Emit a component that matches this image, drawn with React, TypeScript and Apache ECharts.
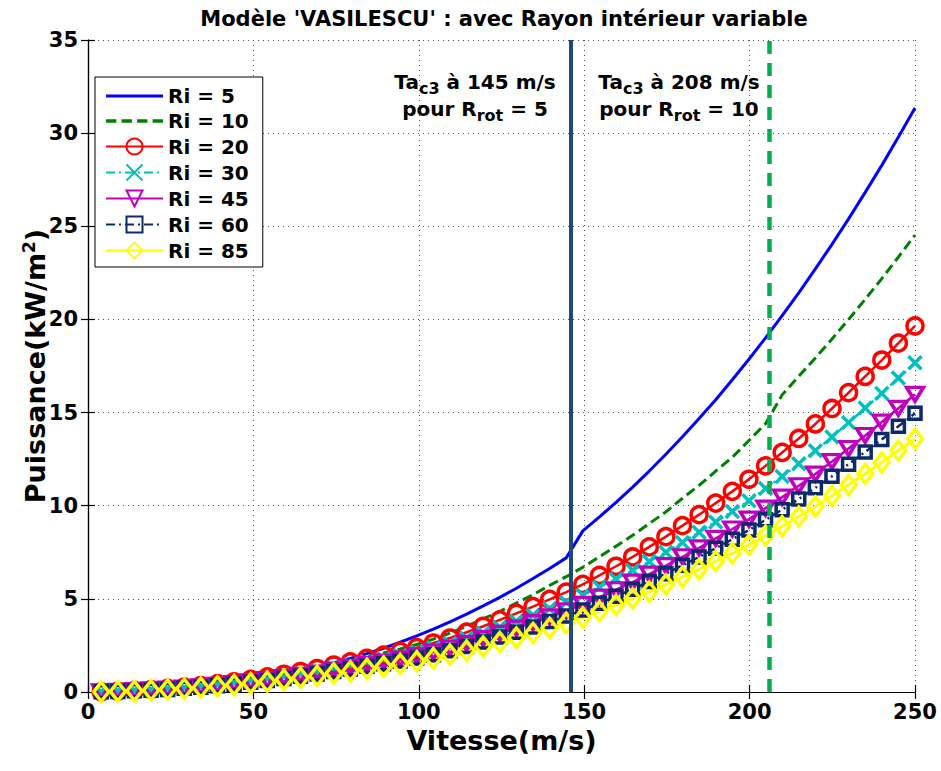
import React, { useEffect, useRef } from "react";
import * as echarts from "echarts";

const FONT = "'DejaVu Sans', 'Liberation Sans', sans-serif";

const titleText = "Modèle 'VASILESCU' : avec Rayon intérieur variable";
const xName = "Vitesse(m/s)";
const seriesNames = ["Ri = 5", "Ri = 10", "Ri = 20", "Ri = 30", "Ri = 45", "Ri = 60", "Ri = 85"];
const xTicks = [0, 50, 100, 150, 200, 250];
const yTicks = [0, 5, 10, 15, 20, 25, 30, 35];

const speeds = [
  4, 9.02, 14.04, 19.06, 24.08, 29.1, 34.12, 39.14, 44.16, 49.18,
  54.2, 59.22, 64.24, 69.27, 74.29, 79.31, 84.33, 89.35, 94.37, 99.39,
  104.41, 109.43, 114.45, 119.47, 124.49, 129.51, 134.53, 139.55, 144.57, 149.59,
  154.61, 159.63, 164.65, 169.67, 174.69, 179.71, 184.73, 189.76, 194.78, 199.8,
  204.82, 209.84, 214.86, 219.88, 224.9, 229.92, 234.94, 239.96, 244.98, 250,
];

const ri5 = [
  0.01, 0.04, 0.09, 0.14, 0.2, 0.27, 0.36, 0.46, 0.58, 0.71,
  0.85, 1.0, 1.16, 1.35, 1.56, 1.8, 2.06, 2.35, 2.67, 3.01,
  3.37, 3.76, 4.18, 4.62, 5.08, 5.57, 6.09, 6.63, 7.2, 8.65,
  9.4, 10.18, 11.0, 11.86, 12.76, 13.7, 14.68, 15.69, 16.76, 17.86,
  19.01, 20.2, 21.43, 22.71, 24.03, 25.4, 26.82, 28.27, 29.79, 31.35,
];
const ri10 = [
  0.01, 0.04, 0.09, 0.13, 0.19, 0.26, 0.35, 0.45, 0.56, 0.69,
  0.82, 0.97, 1.13, 1.3, 1.5, 1.68, 1.9, 2.09, 2.31, 2.55,
  2.84, 3.16, 3.53, 3.92, 4.33, 4.77, 5.22, 5.72, 6.19, 6.7,
  7.26, 7.83, 8.41, 9.04, 9.67, 10.4, 11.09, 11.86, 12.6, 13.5,
  14.4, 15.95, 16.95, 17.93, 18.95, 20.0, 21.08, 22.19, 23.35, 24.53,
];
const ri20 = [
  0.01, 0.04, 0.09, 0.13, 0.19, 0.26, 0.35, 0.45, 0.55, 0.68,
  0.81, 0.95, 1.1, 1.26, 1.45, 1.62, 1.81, 1.98, 2.18, 2.38,
  2.63, 2.9, 3.21, 3.53, 3.87, 4.22, 4.58, 4.97, 5.36, 5.78,
  6.26, 6.75, 7.25, 7.79, 8.34, 8.93, 9.52, 10.14, 10.77, 11.42,
  12.14, 12.86, 13.61, 14.39, 15.22, 16.07, 16.94, 17.82, 18.73, 19.65,
];
const ri30 = [
  0.01, 0.04, 0.08, 0.12, 0.17, 0.23, 0.31, 0.4, 0.49, 0.61,
  0.73, 0.86, 0.99, 1.13, 1.3, 1.46, 1.63, 1.78, 1.96, 2.15,
  2.37, 2.61, 2.89, 3.17, 3.48, 3.8, 4.12, 4.47, 4.82, 5.2,
  5.63, 6.07, 6.53, 7.01, 7.5, 8.03, 8.57, 9.13, 9.69, 10.27,
  10.92, 11.57, 12.25, 12.95, 13.69, 14.46, 15.24, 16.03, 16.85, 17.68,
];
const ri45 = [
  0.01, 0.04, 0.07, 0.11, 0.15, 0.21, 0.28, 0.36, 0.45, 0.55,
  0.66, 0.78, 0.89, 1.02, 1.18, 1.32, 1.47, 1.61, 1.77, 1.94,
  2.14, 2.36, 2.61, 2.87, 3.15, 3.43, 3.72, 4.04, 4.36, 4.7,
  5.09, 5.49, 5.9, 6.33, 6.78, 7.26, 7.74, 8.25, 8.75, 9.28,
  9.87, 10.46, 11.07, 11.7, 12.37, 13.07, 13.77, 14.49, 15.23, 15.98,
];
const ri60 = [
  0.01, 0.03, 0.07, 0.1, 0.14, 0.2, 0.26, 0.34, 0.42, 0.52,
  0.62, 0.73, 0.84, 0.96, 1.1, 1.23, 1.38, 1.51, 1.66, 1.82,
  2.0, 2.21, 2.44, 2.68, 2.95, 3.21, 3.49, 3.78, 4.08, 4.4,
  4.76, 5.14, 5.52, 5.93, 6.35, 6.8, 7.25, 7.72, 8.2, 8.69,
  9.24, 9.79, 10.36, 10.96, 11.58, 12.23, 12.89, 13.56, 14.26, 14.96,
];
const ri85 = [
  0.01, 0.03, 0.06, 0.09, 0.13, 0.18, 0.24, 0.31, 0.38, 0.47,
  0.56, 0.66, 0.76, 0.87, 1.0, 1.12, 1.25, 1.37, 1.51, 1.65,
  1.82, 2.01, 2.22, 2.44, 2.68, 2.92, 3.17, 3.44, 3.71, 4.0,
  4.33, 4.67, 5.02, 5.39, 5.77, 6.18, 6.59, 7.02, 7.45, 7.9,
  8.4, 8.9, 9.42, 9.96, 10.53, 11.12, 11.72, 12.33, 12.96, 13.6,
];

const transitionSpeeds = [146, 206];

const CROSS = "path://M0,0L10,10M10,0L0,10";
const TRI_DOWN = "path://M0,0L12,0L6,10Z";
const SOLID_BAR = "path://M0,0L57,0L57,3.2L0,3.2Z";
const DASH_BAR = "path://M0,0h10v3.2h-10z M15,0h10v3.2h-10z M30,0h10v3.2h-10z M45,0h10v3.2h-10z";

export default function App() {
  const ref = useRef<HTMLDivElement>(null);

  useEffect(() => {
    if (!ref.current) return;
    const chart = echarts.init(ref.current, null, { renderer: "svg" });

    const mk = (
      name: string,
      vals: number[],
      color: string,
      lineType: any,
      width: number,
      symbol: string,
      symbolSize: any
    ) => ({
      type: "line",
      name,
      data: speeds.map((x, i) => [x, vals[i]]),
      symbol,
      showSymbol: symbol !== "none",
      symbolSize,
      symbolKeepAspect: false,
      lineStyle: { color, width, type: lineType },
      itemStyle: { color: "none", borderColor: color, borderWidth: 3.5 },
      emphasis: { disabled: true },
      silent: true,
      clip: false,
    });

    const axisTextStyle = {
      color: "#000",
      fontSize: 21,
      fontWeight: "bold",
      fontFamily: FONT,
    };

    const subRich = {
      m: { fontSize: 20, fontWeight: "bold", fontFamily: FONT, fill: "#000" },
      s: { fontSize: 16, fontWeight: "bold", fontFamily: FONT, fill: "#000", padding: [12, 0, 0, 0] },
    };

    const annot = (x: number, y: number, text: string) => ({
      type: "text",
      x,
      y,
      style: {
        text,
        fill: "#000",
        font: `bold 20px ${FONT}`,
        align: "center",
        verticalAlign: "middle",
        rich: subRich,
      },
    });

    const option: any = {
      animation: false,
      backgroundColor: "#fff",
      grid: { left: 88, right: 26, top: 40, bottom: 79, containLabel: false },
      xAxis: [
        {
          type: "value",
          min: xTicks[0],
          max: xTicks[xTicks.length - 1],
          interval: 50,
          name: xName,
          nameLocation: "middle",
          nameGap: 35,
          nameMoveOverlap: false,
          nameTextStyle: { ...axisTextStyle, fontSize: 27 },
          axisLine: { show: true, lineStyle: { color: "#000", width: 1.2 } },
          axisTick: { show: true, inside: true, length: 7, lineStyle: { color: "#000", width: 1.2 } },
          axisLabel: { ...axisTextStyle, margin: 9 },
          splitLine: { show: true, lineStyle: { color: "#555", width: 1, type: [1, 4] } },
        },
        {
          type: "value",
          position: "top",
          min: xTicks[0],
          max: xTicks[xTicks.length - 1],
          interval: 50,
          axisLine: { show: true, lineStyle: { color: "#000", width: 1.2 } },
          axisTick: { show: true, inside: true, length: 7, lineStyle: { color: "#000", width: 1.2 } },
          axisLabel: { show: false },
          splitLine: { show: false },
        },
      ],
      yAxis: [
        {
          type: "value",
          min: yTicks[0],
          max: yTicks[yTicks.length - 1],
          interval: 5,
          name: "Puissance(kW/m{sup|2})",
          nameLocation: "middle",
          nameGap: 37,
          nameMoveOverlap: false,
          nameTextStyle: {
            ...axisTextStyle,
            fontSize: 27,
            rich: {
              sup: { fontSize: 17, fontWeight: "bold", fontFamily: FONT, color: "#000", padding: [0, 0, 14, 0] },
            },
          },
          axisLine: { show: true, lineStyle: { color: "#000", width: 1.2 } },
          axisTick: { show: true, inside: true, length: 7, lineStyle: { color: "#000", width: 1.2 } },
          axisLabel: { ...axisTextStyle, margin: 10 },
          splitLine: { show: true, lineStyle: { color: "#555", width: 1, type: [1, 4] } },
        },
        {
          type: "value",
          position: "right",
          min: yTicks[0],
          max: yTicks[yTicks.length - 1],
          interval: 5,
          axisLine: { show: true, lineStyle: { color: "#000", width: 1.2 } },
          axisTick: { show: true, inside: true, length: 7, lineStyle: { color: "#000", width: 1.2 } },
          axisLabel: { show: false },
          splitLine: { show: false },
        },
      ],
      legend: {
        data: [
          { name: seriesNames[0], icon: SOLID_BAR, itemStyle: { color: "#0000ff", borderWidth: 0 } },
          { name: seriesNames[1], icon: DASH_BAR, itemStyle: { color: "#007f00", borderWidth: 0 } },
          { name: seriesNames[2] },
          { name: seriesNames[3] },
          { name: seriesNames[4] },
          { name: seriesNames[5] },
          { name: seriesNames[6] },
        ],
        orient: "vertical",
        left: 95,
        top: 77,
        itemWidth: 57,
        itemHeight: 20,
        itemGap: 5,
        padding: [9, 14, 6, 10],
        backgroundColor: "#fff",
        borderColor: "#000",
        borderWidth: 1,
        borderRadius: 0,
        selectedMode: false,
        textStyle: { color: "#000", fontSize: 20, fontWeight: "bold", fontFamily: FONT },
      },
      series: [
        mk(seriesNames[0], ri5, "#0000ff", "solid", 3, "none", 0),
        mk(seriesNames[1], ri10, "#007f00", [10, 5], 3, "none", 0),
        mk(seriesNames[2], ri20, "#ff0000", "solid", 2.5, "circle", 16),
        mk(seriesNames[3], ri30, "#00bfbf", [9, 4, 2, 4], 2.5, CROSS, 13),
        mk(seriesNames[4], ri45, "#bf00bf", "solid", 2.5, TRI_DOWN, [17, 14]),
        mk(seriesNames[5], ri60, "#0c2a6a", [9, 4, 2, 4], 2.5, "rect", 12),
        mk(seriesNames[6], ri85, "#ffff00", "solid", 3, "diamond", [15, 19]),
        {
          type: "line",
          name: "transitions",
          data: [],
          z: 10,
          silent: true,
          markLine: {
            silent: true,
            symbol: "none",
            animation: false,
            label: { show: false },
            data: [
              { xAxis: transitionSpeeds[0], lineStyle: { color: "#1f497d", width: 4, type: "solid" } },
              { xAxis: transitionSpeeds[1], lineStyle: { color: "#00b050", width: 4.5, type: [13, 9] } },
            ],
          },
        },
      ],
      graphic: [
        {
          type: "text",
          x: 504,
          y: 19,
          style: {
            text: titleText,
            fill: "#000",
            font: `bold 21px ${FONT}`,
            align: "center",
            verticalAlign: "middle",
          },
        },
        annot(475, 82, "{m|Ta}{s|c3}{m| à 145 m/s}"),
        annot(475, 109, "{m|pour R}{s|rot}{m| = 5}"),
        annot(679, 82, "{m|Ta}{s|c3}{m| à 208 m/s}"),
        annot(679, 109, "{m|pour R}{s|rot}{m| = 10}"),
      ],
    };

    chart.setOption(option);
    return () => chart.dispose();
  }, []);

  return (
    <div
      ref={ref}
      style={{ position: "absolute", left: 0, top: 0, width: 941, height: 771, background: "#fff" }}
    />
  );
}
